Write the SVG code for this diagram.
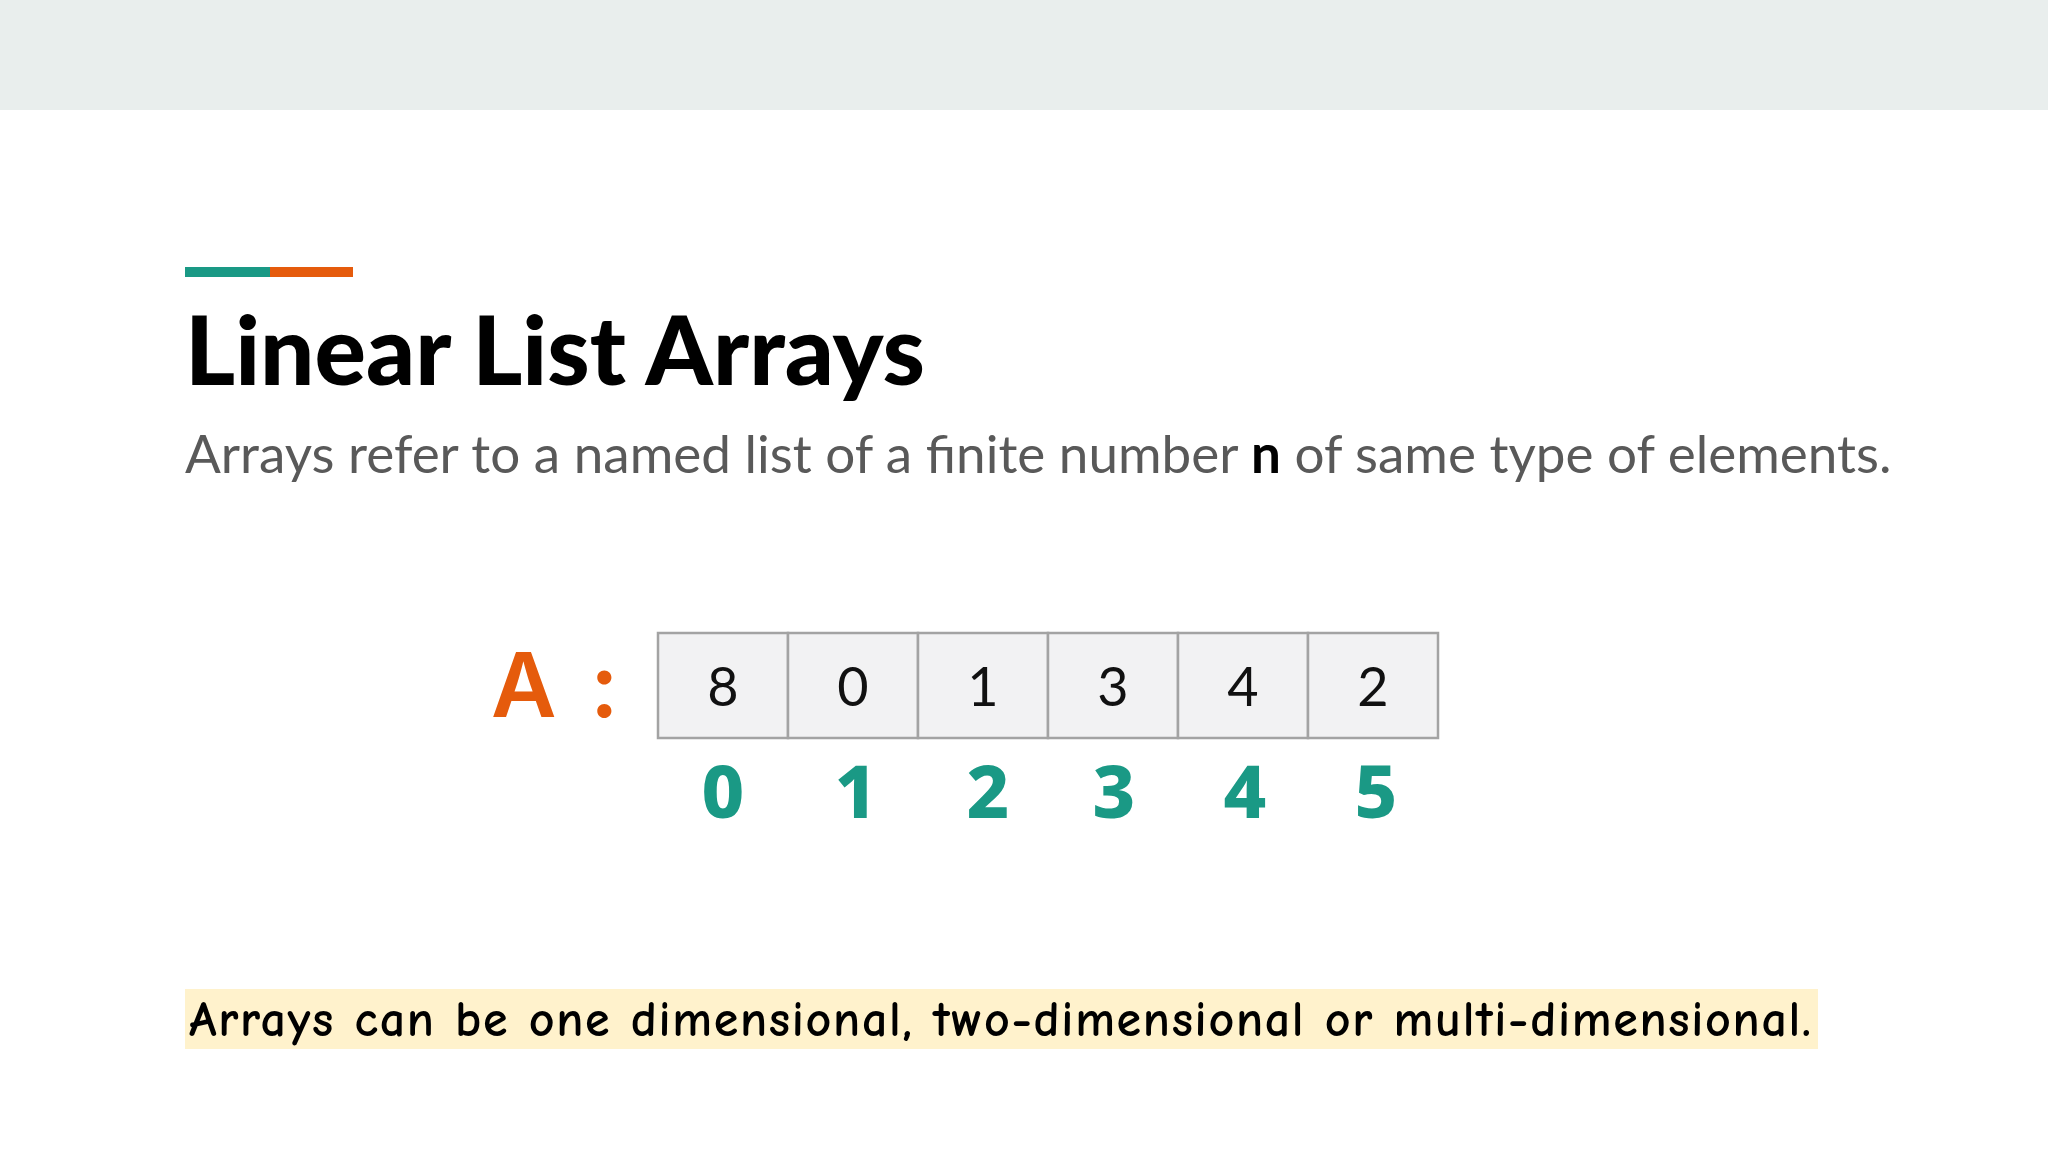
<svg xmlns="http://www.w3.org/2000/svg" width="2048" height="1152" viewBox="0 0 2048 1152">
<style>
.cell{fill:#f2f2f3;stroke:#a3a3a3;stroke-width:2.5}
.val{font-family:Lato,"Open Sans",sans-serif;font-size:54px;fill:#111;text-anchor:middle}
.idx{font-family:"Noto Sans",Inter,sans-serif;font-weight:800;font-size:74px;fill:#1a9985;text-anchor:middle}
</style>
<rect x="0" y="0" width="2048" height="1152" fill="#ffffff"/>
<rect x="0" y="0" width="2048" height="110" fill="#e9eeed"/>
<g id="accent">
<rect x="185" y="267" width="85" height="10" fill="#1a9985"/>
<rect x="270" y="267" width="83" height="10" fill="#e55b0c"/>
</g>
<g id="title">
<text x="185" y="385" font-family="Lato,sans-serif" font-weight="900" font-size="95" fill="#000" textLength="740" lengthAdjust="spacingAndGlyphs">Linear List Arrays</text>
</g>
<g id="subtitle">
<text x="185" y="473" font-family="Lato,sans-serif" font-size="53" fill="#595959">Arrays refer to a named list of a finite number <tspan font-weight="bold" fill="#000">n</tspan> of same type of elements.</text>
</g>
<g id="label">
<text x="491" y="717" font-family="Inter,'Noto Sans',sans-serif" font-weight="600" font-size="90" fill="#e55b0c">A</text>
<text x="590" y="717" font-family="Inter,'Noto Sans',sans-serif" font-weight="600" font-size="90" fill="#e55b0c">:</text>
</g>
<g id="array">
<rect class="cell" x="658" y="633" width="130" height="105"/>
<rect class="cell" x="788" y="633" width="130" height="105"/>
<rect class="cell" x="918" y="633" width="130" height="105"/>
<rect class="cell" x="1048" y="633" width="130" height="105"/>
<rect class="cell" x="1178" y="633" width="130" height="105"/>
<rect class="cell" x="1308" y="633" width="130" height="105"/>
<text class="val" x="723" y="706">8</text>
<text class="val" x="853" y="706">0</text>
<text class="val" x="983" y="706">1</text>
<text class="val" x="1113" y="706">3</text>
<text class="val" x="1243" y="706">4</text>
<text class="val" x="1373" y="706">2</text>
</g>
<g id="indices">
<text class="idx" x="723" y="818">0</text>
<text class="idx" x="856" y="818">1</text>
<text class="idx" x="988" y="818">2</text>
<text class="idx" x="1114" y="818">3</text>
<text class="idx" x="1245" y="818">4</text>
<text class="idx" x="1376" y="818">5</text>
</g>
<g id="note">
<rect x="185" y="989" width="1633" height="60" fill="#fff2cc"/>
<text x="189" y="1036" font-family="'Comic Sans MS','Comic Neue','DejaVu Sans',sans-serif" font-weight="bold" font-size="50" fill="#000" textLength="1622" lengthAdjust="spacing">Arrays can be one dimensional, two-dimensional or multi-dimensional.</text>
</g>
</svg>
